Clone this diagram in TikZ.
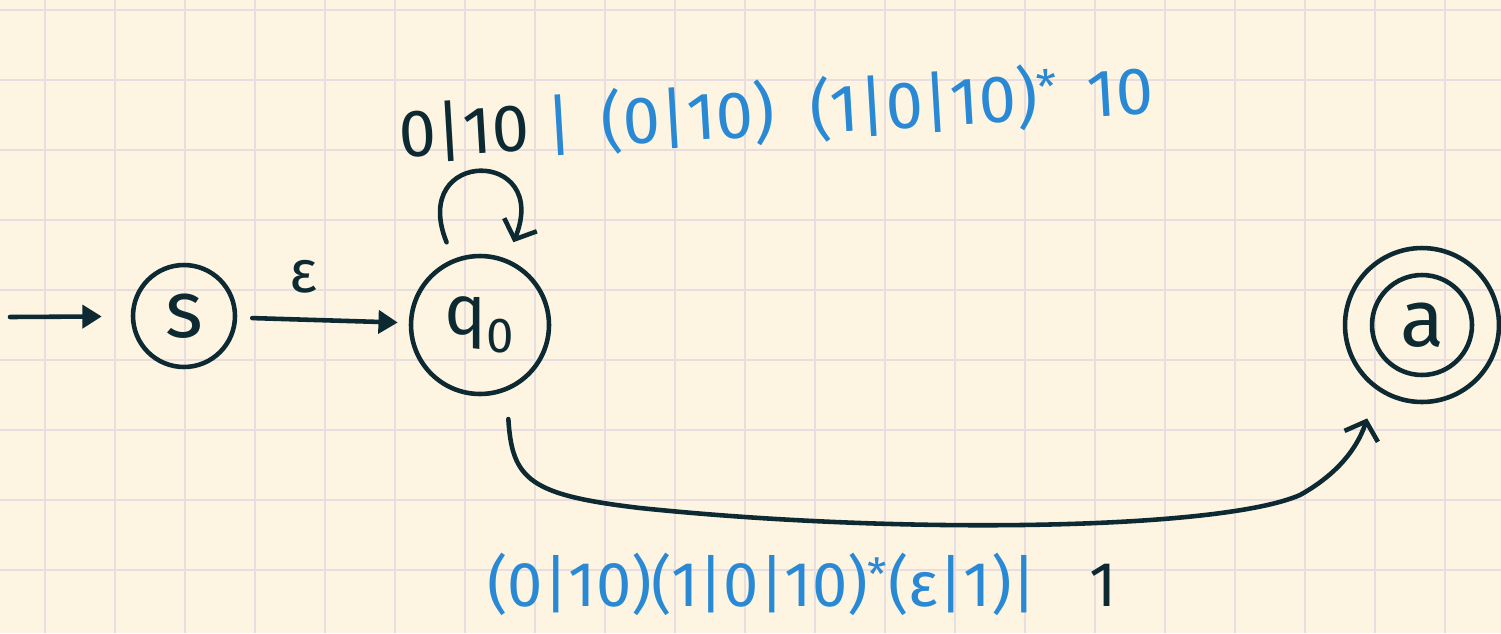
\documentclass[tikz,border=0pt]{standalone}
\usepackage{fontspec}
\setmainfont{Fira Sans}
\usetikzlibrary{arrows.meta}
\definecolor{paper}{HTML}{FDF5E2}
\definecolor{gridc}{HTML}{E8DDE0}
\definecolor{ink}{HTML}{0D2A33}
\definecolor{pen}{HTML}{2A89D4}
\tikzset{
  state/.style={draw=ink, line width=2.6pt, circle, inner sep=0pt, text=ink},
  conn/.style={draw=ink, line width=2.6pt, line cap=round, -{Triangle[length=11pt,width=13pt]}},
  barb/.style={draw=ink, line width=2.6pt, line cap=round, -{Straight Barb[length=9pt,width=20pt,line width=2.6pt]}},
  lab/.style={inner sep=0pt, font=\fontsize{34}{40}\selectfont},
}
\begin{document}
\begin{tikzpicture}[x=0.02cm,y=-0.02cm]
\fill[paper] (0,0) rectangle (1501,633);
\useasboundingbox (0,0) rectangle (1501,633);
\foreach \x in {45,115,...,1445} \draw[gridc, line width=1.1pt] (\x,0) -- (\x,633);
\foreach \y in {10,80,...,570} \draw[gridc, line width=1.1pt] (0,\y) -- (1501,\y);

\node[state, minimum size=2.04cm, font=\fontsize{46}{46}\selectfont] (s) at (184,316) {s};
\node[state, minimum size=2.76cm, font=\fontsize{40}{40}\selectfont] (q0) at (480,325) {q\textsubscript{0}};
\node[state, minimum size=2.0cm, font=\fontsize{46}{46}\selectfont] (a) at (1422,325) {a};
\node[state, minimum size=3.08cm] (aout) at (1422,325) {};

\coordinate (init) at (10,317);
\draw[conn, shorten >=0.58cm] (init) -- (s);
\draw[conn, shorten <=0.3cm, shorten >=0.22cm] (s) -- (q0);
\node[lab, text=ink] (eps) at (303,277) {ε};

\path (q0) edge[barb, out=112, in=68, distance=2.4cm, shorten <=0.36cm, shorten >=0.36cm] (q0);

\draw[barb, shorten <=0.56cm, shorten >=0.6cm] (q0.-68) .. controls (512,480) and (530,495) .. (640,508)
  .. controls (900,535) and (1220,530) .. (1300,495)
  .. controls (1345,470) and (1360,440) .. (aout.-125);

\node[lab, anchor=base west, rotate=3.4, font=\fontsize{38}{44}\selectfont] (looplab) at (400,158)
  {{\color{ink}0|10}\hspace{10pt}{\color{pen}|\hspace{16pt}(0|10)\hspace{20pt}(1|0|10)\textsuperscript{*}\hspace{16pt}10}};
\node[lab, anchor=base west, font=\fontsize{36}{42}\selectfont] (curvelab) at (487,606)
  {{\color{pen}(0|10)(1|0|10)\textsuperscript{*}(ε|1)|}\hspace{30pt}{\color{ink}1}};
\end{tikzpicture}
\end{document}
